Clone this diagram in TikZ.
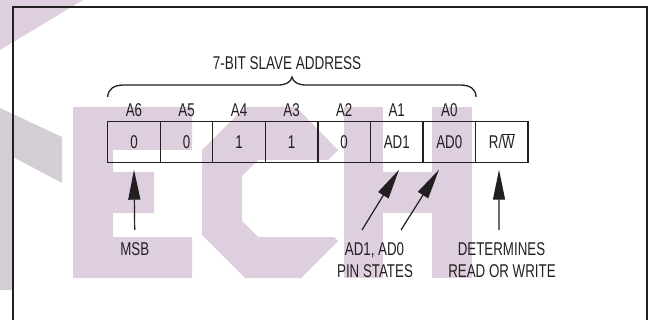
\documentclass[tikz,border=0pt]{standalone}
\usepackage{fontspec}
\setmainfont[FakeStretch=0.72]{Liberation Sans}
\newfontfamily\titlefont[FakeStretch=0.73]{Liberation Sans}
\usetikzlibrary{arrows.meta}
\definecolor{ink}{RGB}{35,31,32}
\definecolor{wm}{RGB}{221,207,222}
\definecolor{wmg}{RGB}{213,205,214}
\begin{document}
\begin{tikzpicture}[x=1pt,y=-1pt,
  lbl/.style={font=\fontsize{18.5}{22}\selectfont, text=ink, inner sep=0pt, outer sep=0pt, anchor=base},
  cell/.style={draw=ink, line width=1.3pt, minimum width=52.55pt, minimum height=41pt,
    inner sep=0pt, outer sep=0pt, anchor=north west, text=ink,
    font=\fontsize{18.5}{22}\selectfont, text height=13pt, text depth=0pt},
  ptr/.style={draw=ink, line width=1.2pt, -{Triangle[length=30pt,width=12pt]}},
]
\useasboundingbox (0,0) rectangle (652,320);
\begin{scope}
\clip (0,0) rectangle (652,320);
% watermark
\fill[wm] (0,0) -- (83,0) -- (0,50) -- cycle;
\fill[wmg] (0,108) -- (62,137) -- (62,183) -- (13,157) -- (13,290) -- (0,290) -- cycle;
\fill[wm] (73,107) -- (192,107) -- (192,150) -- (113,150) -- (113,172) -- (154,172) -- (154,213)
  -- (113,213) -- (113,237) -- (192,237) -- (192,278) -- (73,278) -- cycle;
\fill[wm] (245,107) -- (296,107) -- (338,150) -- (328,160) -- (258,160) -- (242,176) -- (242,221)
  -- (258,237) -- (334,237) -- (338,241) -- (301,278) -- (245,278) -- (202,235) -- (202,150) -- cycle;
\fill[wm] (344,107) rectangle (383,278);
\fill[wm] (432,107) rectangle (472,278);
\fill[wm] (383,172) rectangle (432,213);
% frame
\draw[ink, line width=2pt] (12.7,7.3) rectangle (647,340);
\end{scope}

% title and brace
\node[lbl, font=\titlefont\fontsize{18.5}{22}\selectfont] (title) at (287,70) {7-BIT SLAVE ADDRESS};
\draw[ink, line width=1.3pt] (107.7,97) .. controls (108,89) and (114,85) .. (124,85) -- (278,85)
  .. controls (286,85) and (291,82) .. (292,77) .. controls (293,82) and (298,85) .. (306,85)
  -- (460,85) .. controls (470,85) and (476,89) .. (476,97);

% cells
\foreach \i/\lab/\val in {0/A6/0,1/A5/0,2/A4/1,3/A3/1,4/A2/0,5/A1/AD1,6/A0/AD0}{
  \node[cell] (c\i) at ({107.7+\i*52.55},121.7) {\val};
  \node[lbl] (l\i) at ({107.7+(\i+0.5)*52.55},117) {\lab};
}
\node[cell] (c7) at ({107.7+7*52.55},121.7) {R/$\overline{\hbox{W}}$};

% bottom labels
\node[lbl] (msb) at (134.7,255) {MSB};
\node[lbl] (pin1) at (374.5,255) {AD1, AD0};
\node[lbl] (pin2) at (375,277) {PIN STATES};
\node[lbl] (rw1) at (501.5,255) {DETERMINES};
\node[lbl] (rw2) at (502,277) {READ OR WRITE};

% arrow tails
\coordinate (tmsb) at (134.7,230);
\coordinate (tad1) at (362,230);
\coordinate (tad0) at (401,230);
\coordinate (trw) at (499,230);

\draw[ptr] (tmsb) -- ([yshift=-7pt]c0.south);
\draw[ptr] (tad1) -- ([xshift=2.3pt,yshift=-7pt]c5.south);
\draw[ptr] (tad0) -- ([xshift=-10.3pt,yshift=-7pt]c6.south);
\draw[ptr] (trw) -- ([xshift=-2.8pt,yshift=-7pt]c7.south);
\end{tikzpicture}
\end{document}
